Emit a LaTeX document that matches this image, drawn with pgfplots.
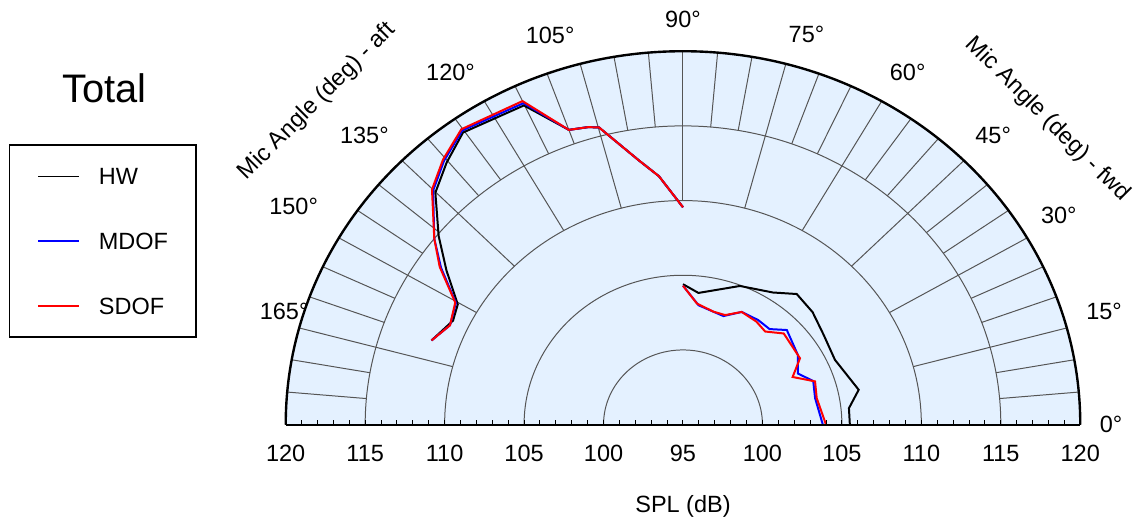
\documentclass[border=0pt]{standalone}
\usepackage{fontspec}
\setmainfont{Liberation Sans}
\usepackage{pgfplots}
\pgfplotsset{compat=1.18}
\usepackage{pgfplotstable}

\definecolor{bgblue}{RGB}{228,241,255}
\definecolor{gridgray}{RGB}{85,85,85}

% angle (deg), SPL (dB)
\pgfplotstableread{
ang spl
90.0 109.55
95.2 111.7
98.9 112.9
104.9 115.6
106.8 115.8
110.0 116.0
115.1 118.6
125.3 118.96
130.3 118.0
135.1 117.0
140.6 114.9
145.3 113.1
150.4 111.3
154.3 111.06
160.4 111.8
}\hwaft
\pgfplotstableread{
ang spl
90.0 109.55
95.2 111.7
98.9 112.9
104.9 115.6
106.8 115.8
110.0 116.0
115.0 118.75
125.2 119.1
130.4 118.2
135.1 117.2
141.5 115.0
145.4 113.5
150.3 111.45
155.6 111.1
160.4 111.8
}\mdofaft
\pgfplotstableread{
ang spl
90.0 109.55
95.2 111.7
98.9 112.9
104.9 115.6
106.8 115.8
110.0 116.0
115.0 118.9
125.2 119.2
130.4 118.3
135.1 117.3
141.5 115.0
145.4 113.6
150.3 111.5
155.6 111.1
160.4 111.8
}\sdofaft
\pgfplotstableread{
ang spl
90.0 104.4
83.7 103.87
68.9 104.95
57.4 105.5
50.7 106.3
42.7 106.1
34.2 105.7
24.4 105.5
11.9 106.3
6.0 105.5
0.0 105.5
}\hwfwd
\pgfplotstableread{
ang spl
90.0 104.3
83.0 103.05
70.7 102.7
63.9 103.4
55.9 103.45
49.6 103.4
44.1 104.1
32.7 103.6
25.3 103.0
19.6 103.7
12.0 103.5
0.0 103.8
}\mdoffwd
\pgfplotstableread{
ang spl
90.0 104.3
83.8 103.15
75.7 102.8
70.1 102.8
63.9 103.4
56.2 103.3
50.3 103.1
43.9 103.8
31.1 103.6
24.8 102.6
19.2 103.8
11.9 103.6
0.0 104.0
}\sdoffwd

\newcommand{\lblfont}{\fontsize{11.8}{14}\selectfont}

\begin{document}
\begin{tikzpicture}
\begin{axis}[
  x=7.98pt, y=7.5pt,
  xmin=-25, xmax=25, ymin=0, ymax=25,
  clip=false,
  axis on top,
  axis x line=bottom,
  axis y line=none,
  axis line style={-, black, line width=1pt},
  xtick={-25,-20,...,25},
  xticklabels={120,115,110,105,100,95,100,105,110,115,120},
  minor x tick num=4,
  tick align=inside,
  major tick length=2.5pt,
  minor tick length=2.5pt,
  tick style={black, line width=0.5pt},
  ytick=\empty,
  xticklabel style={font=\lblfont, yshift=-7pt},
  legend style={at={(-0.3484,0.7508)}, anchor=north west, draw=black,
    line width=0.8pt, fill=white, inner xsep=14pt, inner ysep=11.5pt,
    row sep=24pt, font=\lblfont,
    nodes={inner sep=0pt, text height=8.5pt, text depth=0pt},
    /tikz/every odd column/.append style={column sep=9.5pt}},
  legend cell align=left,
  legend image code/.code={\draw[#1, line width=0.8pt] (0pt,0pt) -- (20.5pt,0pt);},
]
% background half disc
\fill[bgblue] (axis cs:-25,0) -- (axis cs:25,0) arc[start angle=0, end angle=180, x radius=25*7.98pt, y radius=25*7.5pt] -- cycle;
% circular grid
\pgfplotsinvokeforeach{5,10,15,20}{
  \draw[gridgray, line width=0.5pt] (axis cs:#1,0) arc[start angle=0, end angle=180, x radius=#1*7.98pt, y radius=#1*7.5pt];
}
% radial grid, every 15 deg from 110 dB
\pgfplotsinvokeforeach{15,30,...,165}{
  \draw[gridgray, line width=0.5pt] (axis cs:{15*cos(#1)},{15*sin(#1)}) -- (axis cs:{25*cos(#1)},{25*sin(#1)});
}
% radial grid, every 5 deg from 115 dB
\pgfplotsinvokeforeach{5,10,20,25,35,40,50,55,65,70,80,85,95,100,110,115,125,130,140,145,155,160,170,175}{
  \draw[gridgray, line width=0.5pt] (axis cs:{20*cos(#1)},{20*sin(#1)}) -- (axis cs:{25*cos(#1)},{25*sin(#1)});
}
\draw[black, line width=1.2pt] (axis cs:25,0) arc[start angle=0, end angle=180, x radius=25*7.98pt, y radius=25*7.5pt];

% data
\addplot[black, line width=1pt, no markers] table[x expr={(\thisrow{spl}-95)*cos(\thisrow{ang})}, y expr={(\thisrow{spl}-95)*sin(\thisrow{ang})}] {\hwaft};
\addlegendentry{HW}
\addplot[blue, line width=1pt, no markers] table[x expr={(\thisrow{spl}-95)*cos(\thisrow{ang})}, y expr={(\thisrow{spl}-95)*sin(\thisrow{ang})}] {\mdofaft};
\addlegendentry{MDOF}
\addplot[red, line width=1pt, no markers] table[x expr={(\thisrow{spl}-95)*cos(\thisrow{ang})}, y expr={(\thisrow{spl}-95)*sin(\thisrow{ang})}] {\sdofaft};
\addlegendentry{SDOF}
\addplot[black, line width=1pt, no markers, forget plot] table[x expr={(\thisrow{spl}-95)*cos(\thisrow{ang})}, y expr={(\thisrow{spl}-95)*sin(\thisrow{ang})}] {\hwfwd};
\addplot[blue, line width=1pt, no markers, forget plot] table[x expr={(\thisrow{spl}-95)*cos(\thisrow{ang})}, y expr={(\thisrow{spl}-95)*sin(\thisrow{ang})}] {\mdoffwd};
\addplot[red, line width=1pt, no markers, forget plot] table[x expr={(\thisrow{spl}-95)*cos(\thisrow{ang})}, y expr={(\thisrow{spl}-95)*sin(\thisrow{ang})}] {\sdoffwd};

% angle labels
\node[font=\lblfont] at (axis cs:26.94,0.03) {0°};
\node[font=\lblfont] at (axis cs:26.5,7.57) {15°};
\node[font=\lblfont] at (axis cs:23.65,14.03) {30°};
\node[font=\lblfont] at (axis cs:19.52,19.37) {45°};
\node[font=\lblfont] at (axis cs:14.14,23.57) {60°};
\node[font=\lblfont] at (axis cs:7.77,26.1) {75°};
\node[font=\lblfont] at (axis cs:0,27.1) {90°};
\node[font=\lblfont] at (axis cs:-8.36,26.03) {105°};
\node[font=\lblfont] at (axis cs:-14.63,23.57) {120°};
\node[font=\lblfont] at (axis cs:-20.05,19.37) {135°};
\node[font=\lblfont] at (axis cs:-24.5,14.6) {150°};
\node[font=\lblfont] at (axis cs:-25.1,7.57) {165°};
% axis titles
\node[font=\lblfont, rotate=45] at (axis cs:-23.03,21.63) {Mic Angle (deg) - aft};
\node[font=\lblfont, rotate=-45] at (axis cs:22.93,20.43) {Mic Angle (deg) - fwd};
\node[font=\lblfont] at (axis cs:0,-5.5) {SPL (dB)};
\node[font=\fontsize{20}{24}\selectfont] at (axis cs:-36.4,22.5) {Total};
% page frame (invisible)
\path (axis cs:-42.98,-6.433) rectangle (axis cs:28.63,28.43);
\end{axis}
\end{tikzpicture}
\end{document}
